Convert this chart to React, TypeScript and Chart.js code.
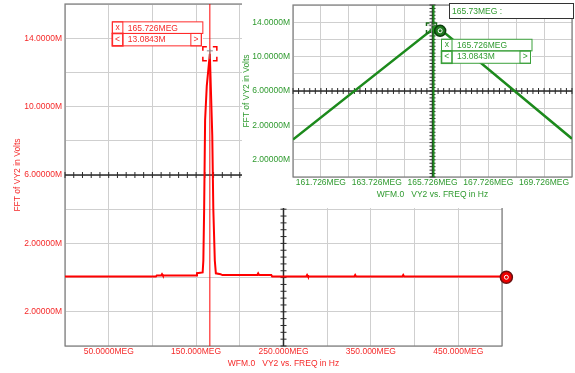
import React, { useEffect, useRef } from 'react';
import { Chart, registerables } from 'chart.js';

Chart.register(...registerables);

const FONT = '"Liberation Sans", Arial, sans-serif';
const FS = 8.5;
const RED_LINE = '#ff0000';
const RED_TEXT = '#f52a2a';
const GREEN_LINE = '#1c8a1c';
const GREEN_TEXT = '#2f9a2f';
const GRID = '#cfcfcf';

// ---------- main chart data (x in MEG Hz, y in M volts) ----------
const mainFreqMEG = [0, 104, 105, 110, 111, 112, 150, 151, 157.5, 158.3, 159.2, 160.3, 162.2, 165.726, 166.8, 168.5, 169.7, 171.4, 172.6, 178, 180, 220, 221, 222, 236, 237, 276, 277, 278, 331, 332, 333, 386, 387, 388, 500];
const mainFFT = [0.06, 0.06, 0.12, 0.12, 0.2, 0.12, 0.12, 0.26, 0.3, 1.0, 4.0, 9.2, 11.2, 13.0843, 11.2, 8.3, 4.0, 1.0, 0.25, 0.2, 0.15, 0.15, 0.25, 0.15, 0.15, 0.06, 0.06, 0.15, 0.06, 0.06, 0.15, 0.06, 0.06, 0.15, 0.06, 0.06];
const mainXTicks = [0, 50, 100, 150, 200, 250, 300, 350, 400, 450, 500];
const mainXLabels = ['', '50.0000MEG', '', '150.000MEG', '', '250.000MEG', '', '350.000MEG', '', '450.000MEG', ''];
const yTicks = [-4, -2, 0, 2, 4, 6, 8, 10, 12, 14, 16];
const yLabels = ['', '2.00000M', '', '2.00000M', '', '6.00000M', '', '10.0000M', '', '14.0000M', ''];
const mainMarker = { x: 505, y: 0.02 };

// ---------- inset chart data ----------
const insetFreqMEG = [160.726, 165.87, 170.726];
const insetFFT = [0.35, 13.55, 0.45];
const insetXTicks = [160.726, 161.726, 162.726, 163.726, 164.726, 165.726, 166.726, 167.726, 168.726, 169.726, 170.726];
const insetXLabels = ['', '161.726MEG', '', '163.726MEG', '', '165.726MEG', '', '167.726MEG', '', '169.726MEG', ''];
const insetMarker = { x: 166.0, y: 13.0 };

const cursorFreq = 165.726;
const cursorValue = 13.0843;
const cursorFreqText = '165.726MEG';
const cursorValueText = '13.0843M';
const headerText = '165.73MEG :';
const xTitle = 'WFM.0   VY2 vs. FREQ in Hz';
const yTitle = 'FFT of VY2 in Volts';

function line(ctx: CanvasRenderingContext2D, x1: number, y1: number, x2: number, y2: number) {
  ctx.beginPath();
  ctx.moveTo(x1, y1);
  ctx.lineTo(x2, y2);
  ctx.stroke();
}

function drawCrosshair(ctx: CanvasRenderingContext2D, a: any, xs: any, ys: any, cx: number, cy: number, xStep: number, yStep: number) {
  const px = xs.getPixelForValue(cx);
  const py = ys.getPixelForValue(cy);
  ctx.strokeStyle = '#2a2a2a';
  ctx.lineWidth = 1.5;
  line(ctx, a.left, py, a.right, py);
  line(ctx, px, a.top, px, a.bottom);
  ctx.lineWidth = 1;
  const nx = Math.round((xs.max - xs.min) / xStep);
  for (let i = 0; i <= nx; i++) {
    const p = xs.getPixelForValue(xs.min + i * xStep);
    line(ctx, p, py - 3, p, py + 3);
  }
  const ny = Math.round((ys.max - ys.min) / yStep);
  for (let i = 0; i <= ny; i++) {
    const p = ys.getPixelForValue(ys.min + i * yStep);
    line(ctx, px - 3, p, px + 3, p);
  }
}

function drawBracket(ctx: CanvasRenderingContext2D, cx: number, cy: number, half: number, len: number, color: string) {
  ctx.strokeStyle = color;
  ctx.lineWidth = 1.5;
  const corners = [[-1, -1], [1, -1], [-1, 1], [1, 1]];
  for (const [sx, sy] of corners) {
    const x = cx + sx * half;
    const y = cy + sy * half;
    ctx.beginPath();
    ctx.moveTo(x - sx * len, y);
    ctx.lineTo(x, y);
    ctx.lineTo(x, y - sy * len);
    ctx.stroke();
  }
  ctx.strokeStyle = '#8a8a8a';
  ctx.lineWidth = 1;
  line(ctx, cx, cy - 5, cx, cy + 5);
  line(ctx, cx - 3, cy - 3, cx + 3, cy - 3);
}

function drawValueBox(ctx: CanvasRenderingContext2D, L: number, T: number, color: string, textColor: string) {
  const w1 = 90.5, w2 = 89, h1 = 11.6, h2 = 12.4, cell = 10.5;
  ctx.fillStyle = '#ffffff';
  ctx.fillRect(L, T, w1, h1 + h2);
  ctx.strokeStyle = color;
  ctx.lineWidth = 1;
  ctx.strokeRect(L, T, w1, h1);
  ctx.strokeRect(L, T, cell, h1);
  ctx.strokeRect(L, T + h1, w2, h2);
  ctx.strokeRect(L + w2 - cell, T + h1, cell, h2);
  ctx.lineWidth = 1.6;
  ctx.strokeRect(L, T + h1, cell, h2);
  ctx.fillStyle = textColor;
  ctx.font = `${FS}px ${FONT}`;
  ctx.textBaseline = 'middle';
  ctx.textAlign = 'center';
  ctx.fillText('x', L + cell / 2, T + h1 / 2);
  ctx.fillText('<', L + cell / 2, T + h1 + h2 / 2);
  ctx.fillText('>', L + w2 - cell / 2, T + h1 + h2 / 2);
  ctx.textAlign = 'left';
  ctx.fillText(cursorFreqText, L + cell + 5, T + h1 / 2 + 0.5);
  ctx.fillText(cursorValueText, L + cell + 5, T + h1 + h2 / 2);
}

function drawMarker(ctx: CanvasRenderingContext2D, x: number, y: number, r: number, fill: string, edge: string) {
  ctx.beginPath();
  ctx.arc(x, y, r, 0, Math.PI * 2);
  ctx.fillStyle = fill;
  ctx.fill();
  ctx.lineWidth = 1.5;
  ctx.strokeStyle = edge;
  ctx.stroke();
  ctx.strokeStyle = '#ffffff';
  ctx.lineWidth = 1;
  ctx.beginPath();
  ctx.arc(x, y, 2, 0, Math.PI * 2);
  ctx.stroke();
}

const mainDecor = {
  id: 'mainDecor',
  beforeDatasetsDraw(chart: any) {
    const { ctx, chartArea: a, scales } = chart;
    ctx.save();
    ctx.strokeStyle = '#7d7d7d';
    ctx.lineWidth = 1.2;
    ctx.strokeRect(a.left, a.top, a.right - a.left, a.bottom - a.top);
    drawCrosshair(ctx, a, scales.x, scales.y, 250, 6, 10, 0.4);
    ctx.restore();
  },
  afterDatasetsDraw(chart: any) {
    const { ctx, chartArea: a, scales } = chart;
    const cx = scales.x.getPixelForValue(cursorFreq);
    const cy = scales.y.getPixelForValue(cursorValue);
    ctx.save();
    ctx.strokeStyle = RED_LINE;
    ctx.lineWidth = 1;
    line(ctx, cx, a.top, cx, a.bottom);
    drawBracket(ctx, cx, cy, 7, 4, RED_LINE);
    drawValueBox(ctx, cx - 97.5, cy - 32, '#ff2a2a', RED_TEXT);
    drawMarker(ctx, scales.x.getPixelForValue(mainMarker.x), scales.y.getPixelForValue(mainMarker.y), 6, '#ee0000', '#6a1010');
    ctx.restore();
  },
};

const insetDecor = {
  id: 'insetDecor',
  beforeDatasetsDraw(chart: any) {
    const { ctx, chartArea: a, scales } = chart;
    ctx.save();
    ctx.strokeStyle = '#7d7d7d';
    ctx.lineWidth = 1.2;
    ctx.strokeRect(a.left, a.top, a.right - a.left, a.bottom - a.top);
    drawCrosshair(ctx, a, scales.x, scales.y, cursorFreq, 6, 0.2, 0.4);
    ctx.restore();
  },
  afterDatasetsDraw(chart: any) {
    const { ctx, chartArea: a, scales } = chart;
    const cx = scales.x.getPixelForValue(cursorFreq);
    const cy = scales.y.getPixelForValue(cursorValue);
    ctx.save();
    ctx.strokeStyle = GREEN_LINE;
    ctx.lineWidth = 2;
    line(ctx, cx + 1, a.top, cx + 1, a.bottom);
    drawBracket(ctx, cx - 1, cy - 2, 5, 3, '#1a6a1a');
    drawMarker(ctx, scales.x.getPixelForValue(insetMarker.x), scales.y.getPixelForValue(insetMarker.y), 5.5, '#1e7a1e', '#0c3c0c');
    drawValueBox(ctx, cx + 9, cy + 9.2, '#3aa03a', GREEN_TEXT);
    // header box
    ctx.fillStyle = '#ffffff';
    ctx.fillRect(207.3, 3.3, 124, 15);
    ctx.strokeStyle = '#333333';
    ctx.lineWidth = 1;
    ctx.strokeRect(207.5, 3.5, 124, 15);
    ctx.fillStyle = GREEN_TEXT;
    ctx.font = `${FS}px ${FONT}`;
    ctx.textBaseline = 'middle';
    ctx.textAlign = 'left';
    ctx.fillText(headerText, 210, 11.5);
    ctx.restore();
  },
};

function axisFont() {
  return { family: FONT, size: FS };
}

export default function App() {
  const mainRef = useRef<HTMLCanvasElement>(null);
  const insetRef = useRef<HTMLCanvasElement>(null);

  useEffect(() => {
    const main = new Chart(mainRef.current as HTMLCanvasElement, {
      type: 'line',
      data: {
        datasets: [{
          data: mainFreqMEG.map((x, i) => ({ x, y: mainFFT[i] })),
          borderColor: RED_LINE,
          borderWidth: 2,
          pointRadius: 0,
          tension: 0,
          fill: false,
        }],
      },
      options: {
        animation: false,
        responsive: false,
        devicePixelRatio: 1,
        layout: { padding: { left: 0, top: 4, right: 73, bottom: 0 } },
        plugins: { legend: { display: false }, tooltip: { enabled: false } },
        scales: {
          x: {
            type: 'linear', min: 0, max: 500,
            afterBuildTicks: (s: any) => { s.ticks = mainXTicks.map((v) => ({ value: v })); },
            afterFit: (s: any) => { s.height = 27; s.paddingLeft = 0; s.paddingRight = 0; },
            ticks: { callback: (_v: any, i: number) => mainXLabels[i] ?? '', color: RED_TEXT, font: axisFont(), padding: 1, maxRotation: 0, autoSkip: false },
            grid: { color: GRID, lineWidth: 1, drawTicks: false },
            border: { display: false },
            title: { display: true, text: xTitle, color: RED_TEXT, font: axisFont(), padding: { top: 0, bottom: 4 } },
          },
          y: {
            type: 'linear', min: -4, max: 16,
            afterBuildTicks: (s: any) => { s.ticks = yTicks.map((v) => ({ value: v })); },
            afterFit: (s: any) => { s.width = 65; s.paddingTop = 0; s.paddingBottom = 0; },
            ticks: { callback: (_v: any, i: number) => yLabels[i] ?? '', color: RED_TEXT, font: axisFont(), padding: 3, autoSkip: false },
            grid: { color: GRID, lineWidth: 1, drawTicks: false },
            border: { display: false },
            title: { display: true, text: yTitle, color: RED_TEXT, font: axisFont(), padding: { top: 12.5, bottom: 0 } },
          },
        },
      } as any,
      plugins: [mainDecor],
    });

    const inset = new Chart(insetRef.current as HTMLCanvasElement, {
      type: 'line',
      data: {
        datasets: [{
          data: insetFreqMEG.map((x, i) => ({ x, y: insetFFT[i] })),
          borderColor: GREEN_LINE,
          borderWidth: 2.5,
          pointRadius: 0,
          tension: 0,
          fill: false,
        }],
      },
      options: {
        animation: false,
        responsive: false,
        devicePixelRatio: 1,
        layout: { padding: { left: 0, top: 5, right: 3, bottom: 0 } },
        plugins: { legend: { display: false }, tooltip: { enabled: false } },
        scales: {
          x: {
            type: 'linear', min: 160.726, max: 170.726,
            afterBuildTicks: (s: any) => { s.ticks = insetXTicks.map((v) => ({ value: v })); },
            afterFit: (s: any) => { s.height = 31; s.paddingLeft = 0; s.paddingRight = 0; },
            ticks: { callback: (_v: any, i: number) => insetXLabels[i] ?? '', color: GREEN_TEXT, font: axisFont(), padding: 1, maxRotation: 0, autoSkip: false },
            grid: { color: GRID, lineWidth: 1, drawTicks: false },
            border: { display: false },
            title: { display: true, text: xTitle, color: GREEN_TEXT, font: axisFont(), padding: { top: 0, bottom: 8 } },
          },
          y: {
            type: 'linear', min: -4, max: 16,
            afterBuildTicks: (s: any) => { s.ticks = yTicks.map((v) => ({ value: v })); },
            afterFit: (s: any) => { s.width = 51; s.paddingTop = 0; s.paddingBottom = 0; },
            ticks: { callback: (_v: any, i: number) => yLabels[i] ?? '', color: GREEN_TEXT, font: axisFont(), padding: 3, autoSkip: false },
            grid: { color: GRID, lineWidth: 1, drawTicks: false },
            border: { display: false },
            title: { display: true, text: yTitle, color: GREEN_TEXT, font: axisFont(), padding: { top: 0, bottom: 0 } },
          },
        },
      } as any,
      plugins: [insetDecor],
    });

    return () => {
      main.destroy();
      inset.destroy();
    };
  }, []);

  return (
    <div style={{ position: 'absolute', left: 0, top: 0, width: 575, height: 373, background: '#ffffff', overflow: 'hidden' }}>
      <canvas ref={mainRef} width={575} height={373} style={{ position: 'absolute', left: 0, top: 0, width: 575, height: 373 }} />
      <canvas ref={insetRef} width={333} height={208} style={{ position: 'absolute', left: 242, top: 0, width: 333, height: 208, background: '#ffffff' }} />
    </div>
  );
}
